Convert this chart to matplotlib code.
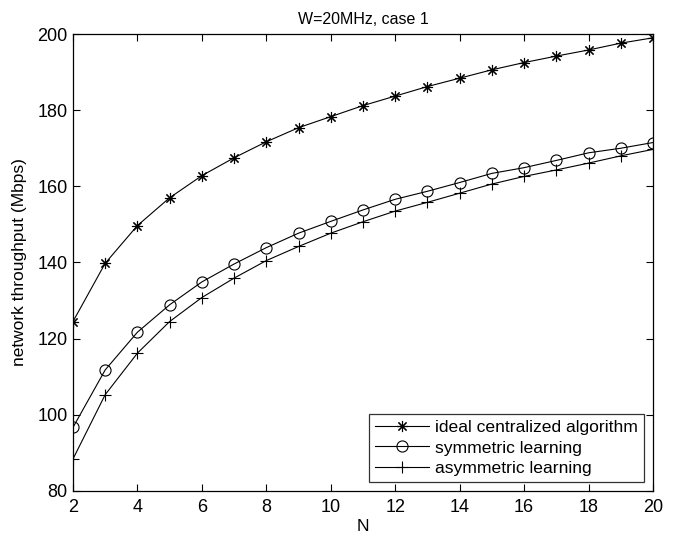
import matplotlib
matplotlib.use("Agg")
from matplotlib import pyplot as plt
import numpy as np

plt.rcParams['font.family'] = ['Liberation Sans', 'DejaVu Sans']

N = list(range(2, 21))
ideal = [124.5, 139.8, 149.7, 157.0, 162.8, 167.5, 171.7, 175.4, 178.3, 181.2,
         183.7, 186.2, 188.4, 190.6, 192.5, 194.2, 195.8, 197.6, 199.0]
symmetric = [96.7, 111.8, 121.7, 128.9, 134.9, 139.6, 143.9, 147.7, 150.8, 153.8,
             156.6, 158.7, 161.0, 163.4, 164.9, 166.8, 168.8, 170.0, 171.5]
asymmetric = [88.4, 105.3, 116.2, 124.5, 130.8, 135.9, 140.5, 144.2, 147.7, 150.7,
              153.5, 155.8, 158.2, 160.6, 162.6, 164.3, 166.1, 168.0, 169.7]

fig = plt.figure(figsize=(6.79, 5.38), dpi=100)
ax = fig.add_axes([0.1075, 0.0874, 0.8542, 0.8494])

ax.plot(N, ideal, color='k', lw=0.8, marker=(8, 2, 0), ms=8, mew=0.8,
        label='ideal centralized algorithm')
ax.plot(N, symmetric, color='k', lw=0.8, marker='o', ms=8, mfc='none', mew=0.8,
        label='symmetric learning')
ax.plot(N, asymmetric, color='k', lw=0.8, marker='+', ms=9, mew=0.8,
        label='asymmetric learning')

ax.set_xlim(2, 20)
ax.set_ylim(80, 200)
ax.set_xticks(range(2, 21, 2))
ax.set_yticks(range(80, 201, 20))
ax.tick_params(direction='in', top=True, right=True, labelsize=13, length=5)
ax.tick_params(axis='x', pad=6)
ax.tick_params(axis='y', pad=4)
for s in ax.spines.values():
    s.set_linewidth(0.9)

ax.set_xlabel('N', fontsize=12.5, labelpad=2)
ax.set_ylabel('network throughput (Mbps)', fontsize=12.5, labelpad=7)
ax.set_title('W=20MHz, case 1', fontsize=11.5, pad=7)

leg = ax.legend(loc='lower right', fontsize=12.6, frameon=True, fancybox=False,
                edgecolor='k', borderaxespad=0.5, handlelength=3.1,
                borderpad=0.35, labelspacing=0.3, handletextpad=0.35)
leg.get_frame().set_linewidth(0.9)

fig.savefig('out.png', dpi=100)
